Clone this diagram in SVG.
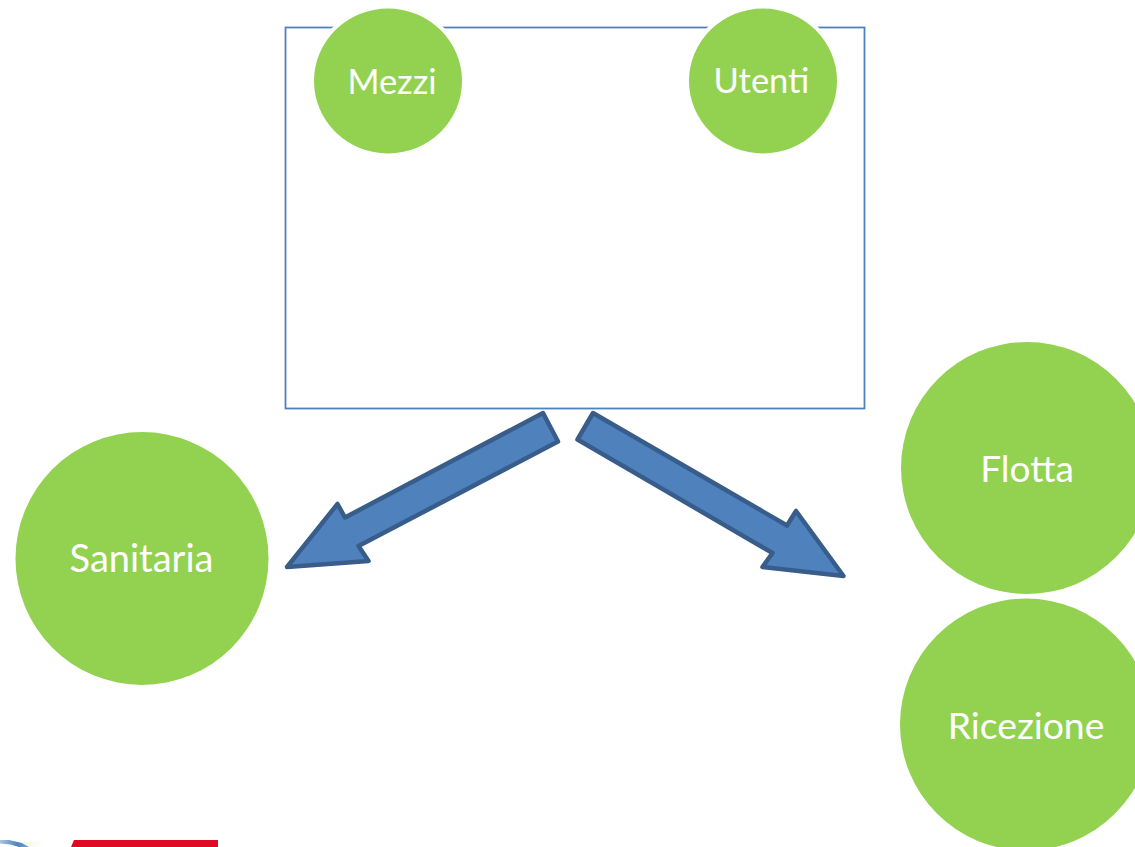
<svg xmlns="http://www.w3.org/2000/svg" width="1135" height="847" viewBox="0 0 1135 847">
<style>
.node{fill:#93d250}
.halo{stroke:#fff;stroke-width:8;paint-order:stroke}
.label{font-family:"Lato","Liberation Sans",sans-serif;fill:#fff;text-anchor:middle}
.arrow{fill:#4f81bd;stroke:#385d8a;stroke-width:4.500;stroke-linejoin:round}
</style>
<defs>
<linearGradient id="logoBlue" x1="0" y1="0" x2="1" y2="0"><stop offset="0" stop-color="#a9c6e2"/><stop offset="0.6" stop-color="#4c86bf"/><stop offset="1" stop-color="#7ba6d0"/></linearGradient>
<linearGradient id="logoFade" x1="0" y1="0" x2="1" y2="0"><stop offset="0" stop-color="#f6f6e4"/><stop offset="1" stop-color="#fff"/></linearGradient>
</defs>
<rect width="1135" height="847" fill="#fff"/>
<g id="box"><rect x="285.500" y="27.500" width="579" height="381" fill="#fff" stroke="#4f81bd" stroke-width="1.800"/></g>
<g id="connectors">
<polygon class="arrow" points="543,413 558,441.500 358.500,546 368.500,561 287,567 337.500,504 345,517.500"/>
<polygon class="arrow" points="593,413 577.500,439.500 772.500,553 762.500,567 843.500,576 796,511 787,525.500"/>
</g>
<g id="mezzi"><ellipse cx="388" cy="81" rx="74" ry="72.500" class="node halo"/><text x="392" y="93.500" font-size="34.500" class="label">Mezzi</text></g>
<g id="utenti"><ellipse cx="763" cy="81" rx="74" ry="72.500" class="node halo"/><text x="761.500" y="92.500" font-size="34.500" class="label">Utenti</text></g>
<g id="sanitaria"><circle cx="142" cy="558.500" r="126.500" class="node"/><text x="141.500" y="571.500" font-size="38" class="label">Sanitaria</text></g>
<g id="flotta"><circle cx="1027" cy="468" r="126" class="node"/><text x="1027" y="481.500" font-size="37" class="label">Flotta</text></g>
<g id="ricezione"><circle cx="1026" cy="724.500" r="126" class="node"/><text x="1026" y="739" font-size="37.300" class="label">Ricezione</text></g>
<g id="logo-fragment">
<path d="M71 847L74 840H218V847Z" fill="#df0a24"/>
<path d="M22 842H46V847H30Z" fill="url(#logoFade)"/>
<path d="M0 840H9L22 843L29 847H19L10 844.500L0 843.500Z" fill="url(#logoBlue)"/>
</g>
</svg>
